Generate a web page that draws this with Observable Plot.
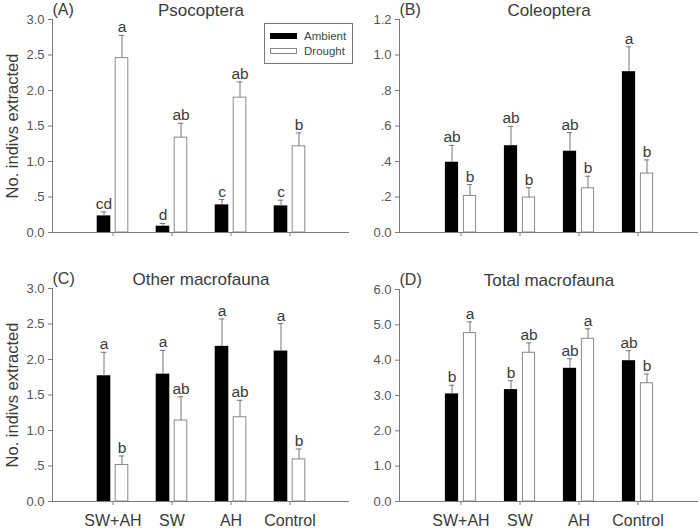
<!DOCTYPE html>
<html>
<head>
<meta charset="utf-8">
<script src="https://cdn.jsdelivr.net/npm/d3@7"></script>
<script src="https://cdn.jsdelivr.net/npm/@observablehq/plot@0.6"></script>
<style>
  html, body { margin: 0; padding: 0; background: #fff; }
  #root { position: relative; width: 700px; height: 530px; overflow: hidden; font-family: "Liberation Sans", Arial, sans-serif; }
  .panel { position: absolute; }
  #legend { position: absolute; left: 264px; top: 23px; width: 87px; height: 39px; border: 1px solid #777; background: #fff; z-index: 5; font-size: 11.5px; color: #444; }
  .row { position: absolute; left: 5px; height: 14px; display: flex; align-items: center; }
  .sw { width: 27px; height: 6px; box-sizing: border-box; margin-right: 7px; }
</style>
</head>
<body>
<div id="root">
  <div id="legend">
    <div class="row" style="top:5px"><div class="sw" style="background:#000"></div><span>Ambient</span></div>
    <div class="row" style="top:20px"><div class="sw" style="background:#fff;border:1px solid #888"></div><span>Drought</span></div>
  </div>
</div>
<script>
// ---------- data ----------
const categories = ["SW+AH", "SW", "AH", "Control"];
const treatments = ["Ambient", "Drought"];

const psocTitle = "Psocoptera";
const psocAmbient = [0.234, 0.089, 0.389, 0.375];
const psocAmbientSE = [0.056, 0.038, 0.075, 0.080];
const psocDrought = [2.456, 1.336, 1.899, 1.214];
const psocDroughtSE = [0.320, 0.202, 0.222, 0.188];
const psocAmbientLetters = ["cd", "d", "c", "c"];
const psocDroughtLetters = ["a", "ab", "ab", "b"];
const psocTicks = [0, 0.5, 1, 1.5, 2, 2.5, 3];
const psocTickLabels = ["0.0", ".5", "1.0", "1.5", "2.0", "2.5", "3.0"];

const coleTitle = "Coleoptera";
const coleAmbient = [0.396, 0.489, 0.458, 0.906];
const coleAmbientSE = [0.095, 0.109, 0.105, 0.140];
const coleDrought = [0.206, 0.197, 0.249, 0.332];
const coleDroughtSE = [0.064, 0.056, 0.068, 0.077];
const coleAmbientLetters = ["ab", "ab", "ab", "a"];
const coleDroughtLetters = ["b", "b", "b", "b"];
const coleTicks = [0, 0.2, 0.4, 0.6, 0.8, 1.0, 1.2];
const coleTickLabels = ["0.0", ".2", ".4", ".6", ".8", "1.0", "1.2"];

const otherTitle = "Other macrofauna";
const otherAmbient = [1.771, 1.794, 2.185, 2.119];
const otherAmbientSE = [0.330, 0.334, 0.386, 0.387];
const otherDrought = [0.514, 1.140, 1.187, 0.593];
const otherDroughtSE = [0.127, 0.335, 0.238, 0.147];
const otherAmbientLetters = ["a", "a", "a", "a"];
const otherDroughtLetters = ["b", "ab", "ab", "b"];
const otherTicks = [0, 0.5, 1, 1.5, 2, 2.5, 3];
const otherTickLabels = ["0.0", ".5", "1.0", "1.5", "2.0", "2.5", "3.0"];

const totalTitle = "Total macrofauna";
const totalAmbient = [3.045, 3.167, 3.770, 3.985];
const totalAmbientSE = [0.245, 0.253, 0.270, 0.282];
const totalDrought = [4.765, 4.210, 4.605, 3.346];
const totalDroughtSE = [0.320, 0.280, 0.282, 0.263];
const totalAmbientLetters = ["b", "b", "ab", "ab"];
const totalDroughtLetters = ["a", "ab", "a", "b"];
const totalTicks = [0, 1, 2, 3, 4, 5, 6];
const totalTickLabels = ["0.0", "1.0", "2.0", "3.0", "4.0", "5.0", "6.0"];

const yLabel = "No. indivs extracted";

// ---------- drawing ----------
const FONT = "Liberation Sans, Arial, sans-serif";
const AXIS = "#7a7a7a";
const TEXT = "#3a3a3a";

function rows(means, ses, letters) {
  return categories.map((c, i) => ({cat: c, mean: means[i], top: means[i] + ses[i], letter: letters[i]}));
}

function panel(cfg) {
  const {left, top, width, height, ml, mr, mt, mb, tag, title, amb, dr, ticks, tickLabels, showX, showY} = cfg;
  const bw = (width - ml - mr) / 5; // band width (paddingOuter 0.5, 4 bands)
  const h = bw / 2;
  const labelOf = new Map(ticks.map((t, i) => [t, tickLabels[i]]));
  const marks = [
    Plot.barY(amb, {x: "cat", y: "mean", fill: "#000", insetLeft: h - 16, insetRight: h + 2}),
    Plot.barY(dr, {x: "cat", y: "mean", fill: "#fff", stroke: "#8a8a8a", strokeWidth: 1, insetLeft: h + 2.5, insetRight: h - 15.5}),
    Plot.ruleX(amb, {x: "cat", y1: "mean", y2: "top", dx: -9, stroke: "#777"}),
    Plot.ruleX(dr, {x: "cat", y1: "mean", y2: "top", dx: 9, stroke: "#777"}),
    Plot.tickY(amb, {x: "cat", y: "top", stroke: "#777", insetLeft: h - 12, insetRight: h + 6}),
    Plot.tickY(dr, {x: "cat", y: "top", stroke: "#777", insetLeft: h + 6, insetRight: h - 12}),
    Plot.text(amb, {x: "cat", y: "top", text: "letter", dx: -9, dy: -3, lineAnchor: "bottom", fontSize: 15.5, fill: TEXT}),
    Plot.text(dr, {x: "cat", y: "top", text: "letter", dx: 9, dy: -3, lineAnchor: "bottom", fontSize: 15.5, fill: TEXT}),
    Plot.ruleY([0], {stroke: AXIS}),
    Plot.frame({anchor: "left", stroke: AXIS}),
    Plot.axisY({ticks: ticks, tickFormat: d => labelOf.get(d), tickSize: 4, tickPadding: 4, fontSize: 13, stroke: AXIS, fill: "#555"}),
    Plot.axisX({tickSize: 4, tickPadding: 9, fontSize: 16, stroke: AXIS, fill: TEXT, tickFormat: showX ? (d => d) : (() => "")}),
    Plot.text([title], {frameAnchor: "top", lineAnchor: "bottom", dy: -4, fontSize: 17, fill: TEXT}),
    Plot.text([tag], {frameAnchor: "top-left", textAnchor: "start", lineAnchor: "bottom", dy: -5, fontSize: 16, fill: TEXT})
  ];
  if (showY) {
    marks.push(Plot.text([yLabel], {frameAnchor: "left", textAnchor: "middle", rotate: -90, dx: -40, fontSize: 16.5, fill: TEXT}));
  }
  const chart = Plot.plot({
    width, height,
    marginLeft: ml, marginRight: mr, marginTop: mt, marginBottom: mb,
    style: {fontFamily: FONT, color: TEXT, background: "transparent", overflow: "visible"},
    x: {type: "band", domain: categories, paddingInner: 0, paddingOuter: 0.5, label: null},
    y: {domain: [ticks[0], ticks[ticks.length - 1]], label: null},
    marks
  });
  const div = document.createElement("div");
  div.className = "panel";
  div.style.left = left + "px";
  div.style.top = top + "px";
  div.appendChild(chart);
  document.getElementById("root").appendChild(div);
}

panel({left: 0, top: 0, width: 350, height: 265, ml: 52, mr: 1, mt: 19, mb: 33, tag: "(A)", title: psocTitle,
  amb: rows(psocAmbient, psocAmbientSE, psocAmbientLetters), dr: rows(psocDrought, psocDroughtSE, psocDroughtLetters),
  ticks: psocTicks, tickLabels: psocTickLabels, showX: false, showY: true});
panel({left: 350, top: 0, width: 350, height: 265, ml: 49, mr: 2, mt: 19, mb: 33, tag: "(B)", title: coleTitle,
  amb: rows(coleAmbient, coleAmbientSE, coleAmbientLetters), dr: rows(coleDrought, coleDroughtSE, coleDroughtLetters),
  ticks: coleTicks, tickLabels: coleTickLabels, showX: false, showY: false});
panel({left: 0, top: 265, width: 350, height: 265, ml: 52, mr: 1, mt: 23, mb: 29, tag: "(C)", title: otherTitle,
  amb: rows(otherAmbient, otherAmbientSE, otherAmbientLetters), dr: rows(otherDrought, otherDroughtSE, otherDroughtLetters),
  ticks: otherTicks, tickLabels: otherTickLabels, showX: true, showY: true});
panel({left: 350, top: 265, width: 350, height: 265, ml: 49, mr: 2, mt: 24, mb: 29, tag: "(D)", title: totalTitle,
  amb: rows(totalAmbient, totalAmbientSE, totalAmbientLetters), dr: rows(totalDrought, totalDroughtSE, totalDroughtLetters),
  ticks: totalTicks, tickLabels: totalTickLabels, showX: true, showY: false});
</script>
</body>
</html>
